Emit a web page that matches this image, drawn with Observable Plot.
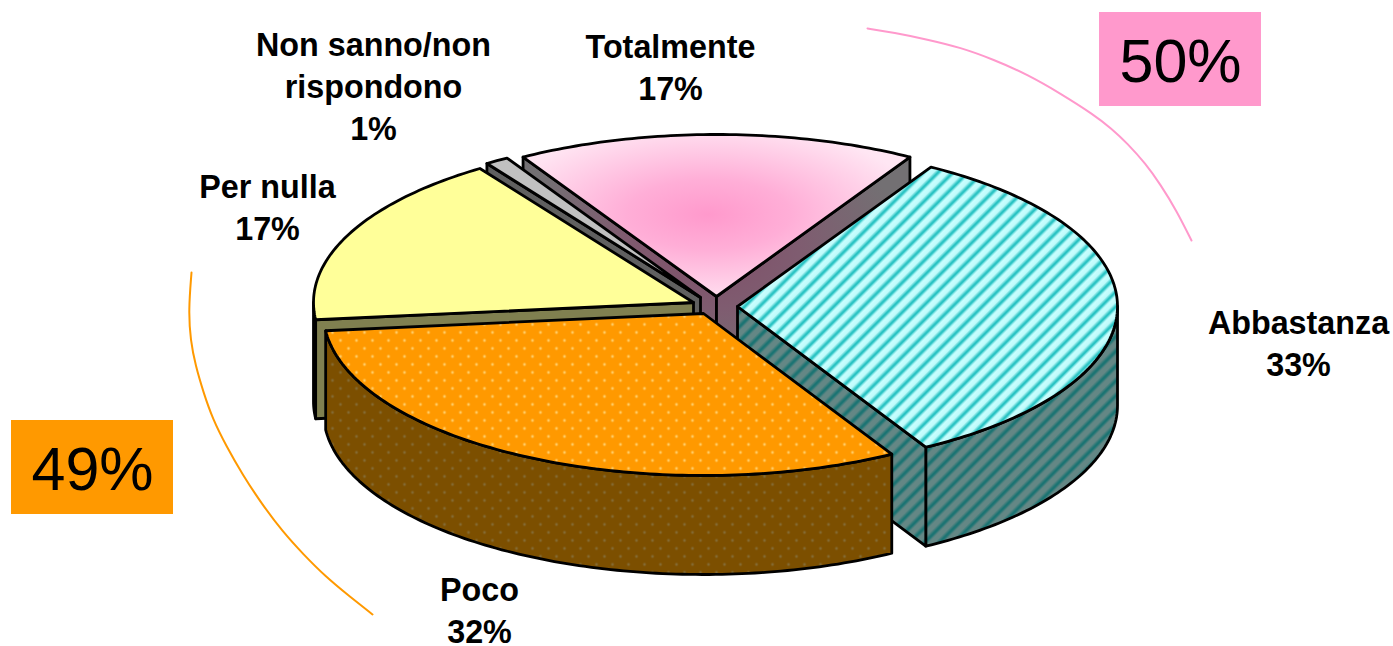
<!DOCTYPE html>
<html>
<head>
<meta charset="utf-8">
<style>
html,body{margin:0;padding:0;background:#fff;overflow:hidden}
svg{display:block}
</style>
<script src="https://cdn.jsdelivr.net/npm/d3@7"></script>
<script src="https://cdn.jsdelivr.net/npm/@observablehq/plot@0.6"></script>
</head>
<body>
<div id="chart"></div>
<script>
// Slices, clockwise from the start angle
const categories = ["Totalmente", "Abbastanza", "Poco", "Per nulla", "Non sanno/non rispondono"];
const shares = [17, 33.25, 31.55, 17.2, 1];
const startAngle = -30.6;
const centerX = [716, 737, 703, 693, 700];
const centerY = [296, 306, 313, 302, 297];
const radiusX = 380, radiusY = 162, depth = 99;
const topFill = ["url(#pinkGlow)", "url(#stripeTop)", "url(#dotTop)", "#ffff99", "#c0c0c0"];
const wallFill = ["url(#pinkGlowDark)", "url(#stripeWall)", "url(#dotWall)", "#808050", "#606060"];

// Text labels
const labelText = ["Totalmente\n17%", "Abbastanza\n33%", "Poco\n32%", "Per nulla\n17%", "Non sanno/non\nrispondono\n1%"];
const labelX = [670, 1298, 479, 267, 373];
const labelY = [65, 341, 608, 205, 84];

// Summary boxes
const boxText = ["50%", "49%"];
const boxFill = ["#ff99cc", "#ff9900"];
const boxX1 = [1099, 11], boxX2 = [1261, 173], boxY1 = [12, 420], boxY2 = [106, 514];

// Bracket arcs
const pinkArc = [[867,28],[893,32],[927,39],[960,47],[993,59],[1027,74],[1060,93],[1093,114],[1111,128],[1127,143],[1145,163],[1160,184],[1176,210],[1191,240]];
const orangeArc = [[191,272],[188,310],[190,340],[195,365],[203,392],[212,418],[226,446],[242,474],[261,503],[282,531],[303,554],[325,576],[348,595],[372,614]];

const rad = d => d * Math.PI / 180;
const edge = (i, a, dz = 0) => [
  centerX[i] + radiusX * Math.sin(rad(a)),
  centerY[i] - radiusY * Math.cos(rad(a)) + dz
];
let cum = startAngle;
const spans = shares.map(s => { const a0 = cum; cum += s * 3.6; return [a0, cum]; });
const arcPts = (i, dz = 0, a0 = spans[i][0], a1 = spans[i][1]) => {
  const n = Math.max(4, Math.ceil(a1 - a0));
  return d3.range(n + 1).map(k => edge(i, a0 + (a1 - a0) * k / n, dz));
};
const apex = (i, dz = 0) => [centerX[i], centerY[i] + dz];

const face = (pts, fill) => Plot.line(pts, {
  x: d => d[0], y: d => d[1], curve: "linear-closed",
  fill, stroke: "#000", strokeWidth: 2.8, strokeLinejoin: "round"
});

function sliceMarks(i) {
  const top = arcPts(i);
  const a = apex(i), b = apex(i, depth);
  const first = top[0], last = top[top.length - 1];
  const firstLow = edge(i, spans[i][0], depth), lastLow = edge(i, spans[i][1], depth);
  const wall = wallFill[i];
  const out = [];
  // the rim is only seen on the near half of the ellipse, 90 to 270 degrees
  const r0 = Math.max(spans[i][0], 90), r1 = Math.min(spans[i][1], 270);
  if (r1 > r0) {
    out.push(face([...arcPts(i, 0, r0, r1), ...arcPts(i, depth, r0, r1).reverse()], wall));
  }
  // only the radial walls that face the viewer are visible
  if (first[0] < a[0]) out.push(face([a, first, firstLow, b], wall));
  if (last[0] > a[0]) out.push(face([a, last, lastLow, b], wall));
  out.push(face([a, ...top], topFill[i]));
  return out;
}

const defs = () => {
  const svgNS = "http://www.w3.org/2000/svg";
  const g = document.createElementNS(svgNS, "defs");
  g.innerHTML = `
  <radialGradient id="pinkGlow" gradientUnits="userSpaceOnUse" cx="0" cy="0" r="1"
      gradientTransform="translate(708 214) scale(215 92)">
    <stop offset="0" stop-color="#ff99cc"/><stop offset="0.38" stop-color="#ffaed7"/>
    <stop offset="1" stop-color="#ffe6f3"/>
  </radialGradient>
  <radialGradient id="pinkGlowDark" gradientUnits="userSpaceOnUse" cx="0" cy="0" r="1"
      gradientTransform="translate(708 250) scale(200 130)">
    <stop offset="0" stop-color="#7f4f68"/><stop offset="0.45" stop-color="#7f5c70"/>
    <stop offset="1" stop-color="#737073"/>
  </radialGradient>
  <linearGradient id="stripeA"><stop offset="0" stop-color="#c8ffff"/><stop offset="0.4" stop-color="#c0fbfb"/>
    <stop offset="0.68" stop-color="#2cc4c4"/><stop offset="0.78" stop-color="#2cc4c4"/><stop offset="1" stop-color="#c8ffff"/></linearGradient>
  <linearGradient id="stripeB"><stop offset="0" stop-color="#648785"/><stop offset="0.4" stop-color="#648785"/>
    <stop offset="0.68" stop-color="#1c7473"/><stop offset="0.8" stop-color="#1c7473"/><stop offset="1" stop-color="#648785"/></linearGradient>
  <pattern id="stripeTop" patternUnits="userSpaceOnUse" width="10.5" height="10.5" patternTransform="rotate(45)">
    <rect width="10.5" height="10.5" fill="url(#stripeA)"/></pattern>
  <pattern id="stripeWall" patternUnits="userSpaceOnUse" width="10.5" height="10.5" patternTransform="rotate(45)">
    <rect width="10.5" height="10.5" fill="url(#stripeB)"/></pattern>
  <pattern id="dotTop" patternUnits="userSpaceOnUse" width="16" height="16">
    <rect width="16" height="16" fill="#ff9900"/>
    <circle cx="4" cy="4" r="1.4" fill="#ffcc66"/><circle cx="12" cy="12" r="1.4" fill="#ffcc66"/></pattern>
  <pattern id="dotWall" patternUnits="userSpaceOnUse" width="16" height="16">
    <rect width="16" height="16" fill="#7c4f00"/>
    <circle cx="4" cy="4" r="1.4" fill="#836a33"/><circle cx="12" cy="12" r="1.4" fill="#836a33"/></pattern>`;
  return g;
};

const drawOrder = [0, 4, 3, 1, 2];

const plot = Plot.plot({
  width: 1393, height: 646,
  margin: 0,
  x: {domain: [0, 1393], range: [0, 1393], axis: null},
  y: {domain: [0, 646], range: [0, 646], axis: null},
  style: {background: "#fff", fontFamily: "'Liberation Sans', Arial, sans-serif"},
  marks: [
    defs,
    Plot.line(pinkArc, {x: d => d[0], y: d => d[1], curve: "basis", stroke: "#ff99cc", strokeWidth: 2}),
    Plot.line(orangeArc, {x: d => d[0], y: d => d[1], curve: "basis", stroke: "#ff9900", strokeWidth: 2}),
    ...drawOrder.flatMap(sliceMarks),
    Plot.rect(boxText, {x1: (d, i) => boxX1[i], x2: (d, i) => boxX2[i], y1: (d, i) => boxY1[i], y2: (d, i) => boxY2[i],
      fill: (d, i) => boxFill[i]}),
    Plot.text(boxText, {x: (d, i) => (boxX1[i] + boxX2[i]) / 2, y: (d, i) => (boxY1[i] + boxY2[i]) / 2 + 2.5,
      text: d => d, fontSize: 61, fill: "#000", lineAnchor: "middle"}),
    Plot.text(labelText, {x: (d, i) => labelX[i], y: (d, i) => labelY[i], text: d => d,
      fontSize: 32.3, fontWeight: "bold", lineHeight: 1.3, fill: "#000", lineAnchor: "middle"})
  ]
});
document.getElementById("chart").append(plot);
</script>
</body>
</html>
